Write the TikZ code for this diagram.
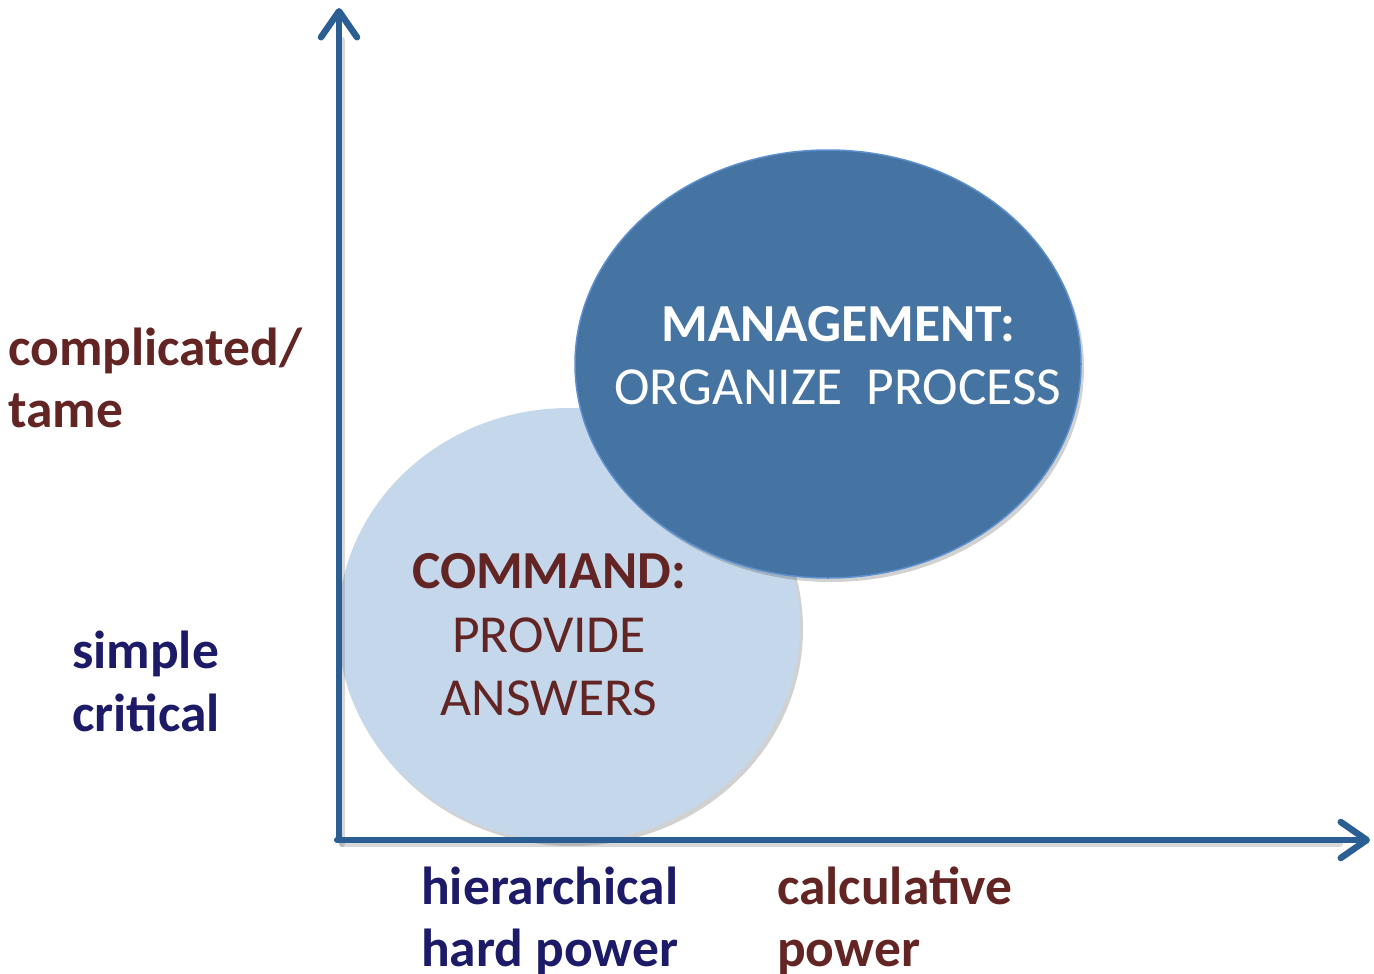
\documentclass[tikz,border=0pt]{standalone}
\usepackage{fontspec}
\setmainfont{Carlito}
\usetikzlibrary{shapes.geometric,arrows.meta}
\definecolor{axisblue}{HTML}{2B5E93}
\definecolor{darkfill}{HTML}{4674A2}
\definecolor{darkedge}{HTML}{5B8FCF}
\definecolor{lightfill}{HTML}{C5D8EB}
\definecolor{maroon}{HTML}{632523}
\definecolor{navy}{HTML}{1D1B68}
\tikzset{
  blob/.style={ellipse, inner sep=0pt},
  lbl/.style={inner sep=0pt, anchor=base west, font=\fontsize{53.5}{62}\selectfont\bfseries},
  ctr/.style={inner sep=0pt, anchor=base, font=\fontsize{53.5}{62}\selectfont},
  axis/.style={draw=axisblue, line width=6pt, line cap=round,
    -{Straight Barb[length=26pt, width=36pt, line width=6.5pt, round]}},
  shade/.style={draw=black!60, opacity=0.25, line width=6pt, line cap=round}
}
\begin{document}
\begin{tikzpicture}[x=1pt, y=-1pt]
\useasboundingbox (0,0) rectangle (1374,974);
\fill[white] (0,0) rectangle (1374,974);
% shadows of ellipses
\fill[black, opacity=0.18] (572,629) ellipse [x radius=231, y radius=217];
\node[blob, fill=lightfill, minimum width=462pt, minimum height=434pt] (cmd) at (569,625) {};
\fill[black, opacity=0.18] (831,368) ellipse [x radius=253, y radius=214];
\node[blob, fill=darkfill, draw=darkedge, line width=1.5pt, minimum width=506pt, minimum height=428pt] (mgmt) at (828,364) {};
% axes
\coordinate (o) at (339,840);
\coordinate (ytop) at (339,8);
\coordinate (xo) at (337,840);
\coordinate (xend) at (1370,840);
\draw[shade] (342,844) -- (342,40);
\draw[shade] (342,844) -- (1340,844);
\draw[axis] (o) -- (ytop);
\draw[axis] (xo) -- (xend);
% left labels
\node[lbl, text=maroon] (c1) at (8,365) {complicated/};
\node[lbl, text=maroon] (c2) at (8,427) {tame};
\node[lbl, text=navy] (s1) at (72,668) {simple};
\node[lbl, text=navy] (s2) at (72,731) {critical};
% bottom labels
\node[lbl, text=navy] (h1) at (421,904) {hierarchical};
\node[lbl, text=navy] (h2) at (421,966) {hard power};
\node[lbl, text=maroon] (p1) at (777,904) {calculative};
\node[lbl, text=maroon] (p2) at (777,966) {power};
% ellipse texts
\node[ctr, text=maroon, font=\fontsize{53.5}{62}\selectfont\bfseries] (t1) at (549,588) {COMMAND:};
\node[ctr, text=maroon] (t2) at (549,652) {PROVIDE};
\node[ctr, text=maroon] (t3) at (549,715) {ANSWERS};
\node[ctr, text=white, font=\fontsize{53.5}{62}\selectfont\bfseries] (m1) at (838,341) {MANAGEMENT:};
\node[ctr, text=white] (m2) at (838,404) {ORGANIZE\ \ PROCESS};
\end{tikzpicture}
\end{document}
